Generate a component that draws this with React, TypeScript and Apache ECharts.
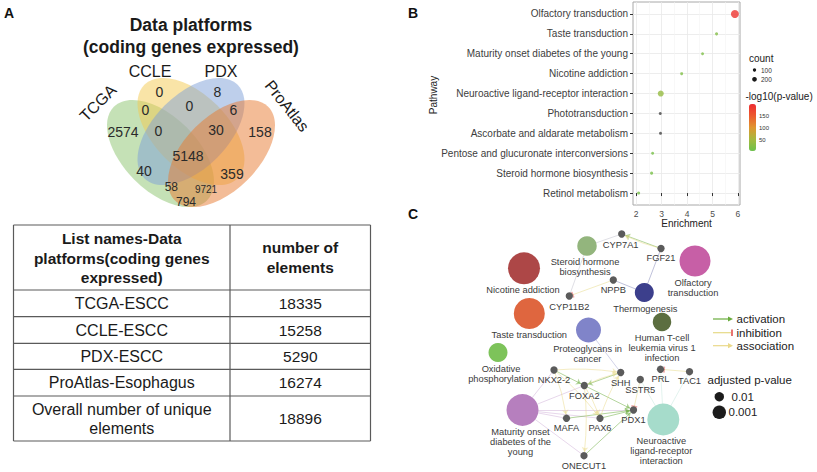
import React, { useEffect, useRef } from 'react';
import * as echarts from 'echarts';

const FONT = '"Liberation Sans", Arial, Helvetica, sans-serif';

// ---------------- Panel A: Venn diagram ----------------
const vennSetNames = ['TCGA', 'CCLE', 'PDX', 'ProAtlas'];
const vennSetColors = ['#8cc46e', '#f3c950', '#7ea0d8', '#e87a30'];
// region keys: A=TCGA, B=CCLE, C=PDX, D=ProAtlas
const vennRegionKeys = ['B', 'C', 'AB', 'BC', 'CD', 'A', 'ABC', 'BCD', 'D', 'ABCD', 'AC', 'BD', 'ACD', 'ABD', 'AD'];
const vennRegionCounts = [0, 8, 0, 0, 6, 2574, 0, 30, 158, 5148, 40, 359, 58, 9721, 794];

// ---------------- Panel A: table ----------------
const tableHeader = ['List names-Data\nplatforms(coding genes\nexpressed)', 'number of\nelements'];
const tableNames = ['TCGA-ESCC', 'CCLE-ESCC', 'PDX-ESCC', 'ProAtlas-Esophagus', 'Overall number of unique\nelements'];
const tableCounts = [18335, 15258, 5290, 16274, 18896];

// ---------------- Panel B: KEGG enrichment dot plot ----------------
const pathways = [
  'Retinol metabolism',
  'Steroid hormone biosynthesis',
  'Pentose and glucuronate interconversions',
  'Ascorbate and aldarate metabolism',
  'Phototransduction',
  'Neuroactive ligand-receptor interaction',
  'Nicotine addiction',
  'Maturity onset diabetes of the young',
  'Taste transduction',
  'Olfactory transduction',
];
const enrichment = [2.1, 2.61, 2.65, 2.96, 2.95, 2.97, 3.79, 4.61, 5.16, 5.88];
const geneCount = [85, 85, 80, 80, 80, 330, 80, 75, 85, 580];
const negLog10P = [14, 16, 15, 2, 2, 40, 22, 20, 24, 190];
const enrichTicks = [2, 3, 4, 5, 6];
const enrichMinor = [2.5, 3.5, 4.5, 5.5];
const countLegend = [100, 200];
const pLegend = [150, 100, 50];
const P_MIN = 5;
const P_MAX = 200;

// ---------------- Panel C: network ----------------
const netIds = ['CYP7A1', 'FGF21', 'Steroid', 'Olfactory', 'Nicotine', 'NPPB', 'CYP11B2', 'Thermo', 'Taste', 'Proteo',
  'HTLV', 'Oxidative', 'NKX2-2', 'FOXA2', 'SHH', 'SSTR5', 'PRL', 'TAC1', 'Maturity', 'MAFA', 'PAX6', 'PDX1', 'ONECUT1', 'Neuro'];
const netLabels = ['CYP7A1', 'FGF21', 'Steroid hormone\nbiosynthesis', 'Olfactory\ntransduction', 'Nicotine addiction', 'NPPB',
  'CYP11B2', 'Thermogenesis', 'Taste transduction', 'Proteoglycans in\ncancer', 'Human T-cell\nleukemia virus 1\ninfection',
  'Oxidative\nphosphorylation', 'NKX2-2', 'FOXA2', 'SHH', 'SSTR5', 'PRL', 'TAC1', 'Maturity onset\ndiabetes of the\nyoung',
  'MAFA', 'PAX6', 'PDX1', 'ONECUT1', 'Neuroactive\nligand-receptor\ninteraction'];
const netX = [211.7, 251, 177, 285, 114, 203.3, 159.3, 234.3, 119.3, 178.5, 252, 88, 144, 174.3, 210.7, 230.3, 250.5, 279.5, 112.5, 156.5, 190, 223.5, 174, 253.3];
const netY = [34, 48.5, 46, 61, 68.3, 80, 96, 92.5, 113.5, 130, 122, 152.5, 170, 185.5, 172.5, 179.5, 169.3, 171.7, 210, 218.3, 218.3, 210, 255.7, 219.5];
// [source, target, relation]
const netLinks: [string, string, string][] = [
  ['Steroid', 'CYP7A1', 'member'],
  ['Steroid', 'CYP11B2', 'member'],
  ['Thermo', 'FGF21', 'member'],
  ['Thermo', 'NPPB', 'member'],
  ['Proteo', 'SHH', 'member'],
  ['Maturity', 'NKX2-2', 'member'],
  ['Maturity', 'FOXA2', 'member'],
  ['Maturity', 'MAFA', 'member'],
  ['Maturity', 'PAX6', 'member'],
  ['Maturity', 'PDX1', 'member'],
  ['Maturity', 'ONECUT1', 'member'],
  ['Neuro', 'PRL', 'member'],
  ['Neuro', 'TAC1', 'member'],
  ['Neuro', 'SSTR5', 'member'],
  ['FGF21', 'CYP7A1', 'activation'],
  ['FGF21', 'CYP7A1', 'association'],
  ['NPPB', 'CYP11B2', 'inhibition'],
  ['TAC1', 'PRL', 'inhibition'],
  ['SSTR5', 'PDX1', 'inhibition'],
  ['SHH', 'FOXA2', 'activation'],
  ['FOXA2', 'SHH', 'association'],
  ['NKX2-2', 'FOXA2', 'activation'],
  ['FOXA2', 'PDX1', 'activation'],
  ['MAFA', 'PDX1', 'activation'],
  ['PAX6', 'PDX1', 'activation'],
  ['ONECUT1', 'PDX1', 'activation'],
  ['FOXA2', 'ONECUT1', 'association'],
  ['NKX2-2', 'PAX6', 'association'],
  ['NKX2-2', 'MAFA', 'association'],
  ['PAX6', 'SHH', 'association'],
  ['FOXA2', 'PAX6', 'association'],
  ['NKX2-2', 'SHH', 'association'],
];
const netRelations = ['activation', 'inhibition', 'association'];
const netPLegend = ['0.01', '0.001'];

// ---------------- styles / layout ----------------
const vennLayout = [
  { x: 160.5, y: 153.5, rot: -Math.PI / 4 },
  { x: 191, y: 131.5, rot: -Math.PI / 4 },
  { x: 191, y: 131.5, rot: Math.PI / 4 },
  { x: 221.5, y: 153.5, rot: Math.PI / 4 },
];
const vennLabelPos = [
  { x: 98, y: 103, rot: Math.PI / 4 },
  { x: 150, y: 71.7, rot: 0 },
  { x: 221, y: 71.7, rot: 0 },
  { x: 287, y: 106, rot: -0.9 },
];
const vennRegionPos: Record<string, [number, number, number]> = {
  B: [159.5, 91.5, 14], C: [217.3, 91.5, 14], AB: [145.3, 109.5, 14], BC: [189.3, 105.5, 14], CD: [233.3, 109.5, 14],
  A: [123, 132, 14], ABC: [158.5, 130.5, 14], BCD: [216, 130, 14], D: [260, 132, 14], ABCD: [188, 156.3, 14],
  AC: [144, 171.3, 14], BD: [232, 174, 14], ACD: [171.3, 187, 12], ABD: [206, 189.5, 10], AD: [186, 201.7, 12],
};
const tableX = [13.5, 230, 370.5];
const tableY = [225, 290, 316.7, 343.3, 369.3, 396, 441];

const netSize = [7.3, 7.3, 19.5, 31, 32, 7.3, 7.3, 19, 31, 25, 18.5, 19, 7.3, 7.3, 7.3, 7.3, 7.3, 7.3, 32, 7.3, 7.3, 7.3, 7.3, 32];
const GENE = '#5b5b5b';
const netColor = [GENE, GENE, '#93b57d', '#c75fa6', '#ad4747', GENE, GENE, '#3c3f8c', '#df663f', '#8084c9', '#5c6e40', '#7dc35a',
  GENE, GENE, GENE, GENE, GENE, GENE, '#b67fbe', GENE, GENE, GENE, GENE, '#a6dccb'];
const netLabelOffset: [number, number][] = [[-1, 10.5], [0, 9.5], [-2, 21], [-2, 27], [-1, 22], [0, 10], [0, 10.5], [1, 16],
  [0, 21.5], [-1, 23.5], [0, 25.5], [3, 21], [0, 10], [0, 10], [0, 10], [0, 10], [0, 10], [0, 9.5], [-2, 32], [0, 10], [0, 10],
  [0, 10], [0, 10], [-2, 31.5]];
const memberColor: Record<string, string> = {
  Steroid: '#b9b9c6', Thermo: '#7275ad', Proteo: '#9c9ecf', Maturity: '#caa6d2', Neuro: '#bfe4da',
};
const relColor: Record<string, string> = { activation: '#69ac3c', inhibition: '#e6da86', association: '#ead98a' };
const INHIBIT_RED = '#e3504e';
const BAR = 'path://M0,0 L10,0 L10,2 L0,2 Z';
const LOW_P_COLOR = '#454545';

const countToSize = (c: number) => 0.332 * Math.sqrt(c);
const pToY = (v: number) => 104 + ((P_MAX - v) / (P_MAX - P_MIN)) * 47;

function txt(text: string, x: number, y: number, size: number, opts: any = {}) {
  return {
    type: 'text',
    x,
    y,
    rotation: opts.rotation || 0,
    silent: true,
    z: opts.z || 10,
    style: {
      text,
      fontSize: size,
      fontFamily: opts.fontFamily || FONT,
      fontWeight: opts.bold ? 'bold' : 'normal',
      fill: opts.fill || '#222',
      align: opts.align || 'center',
      verticalAlign: 'middle',
      lineHeight: opts.lineHeight,
    },
  };
}

function buildOption() {
  const g: any[] = [];
  // panel letters
  g.push(txt('A', 9, 12.5, 14, { bold: true, fill: '#111' }));
  g.push(txt('B', 413, 12.5, 14, { bold: true, fill: '#111' }));
  g.push(txt('C', 413, 213.5, 14, { bold: true, fill: '#111' }));

  // Venn title
  g.push(txt('Data platforms', 191, 25, 17.5, { bold: true, fill: '#1a1a1a' }));
  g.push(txt('(coding genes expressed)', 191, 46.5, 17.5, { bold: true, fill: '#1a1a1a' }));

  // ellipses
  vennSetNames.forEach((_, i) => {
    const L = vennLayout[i];
    g.push({
      type: 'ellipse',
      x: L.x,
      y: L.y,
      rotation: L.rot,
      silent: true,
      z: 2 + i,
      shape: { cx: 0, cy: 0, rx: 66, ry: 37 },
      style: { fill: vennSetColors[i], opacity: 0.5 },
    });
    const P = vennLabelPos[i];
    g.push(txt(vennSetNames[i], P.x, P.y, 16, { rotation: P.rot, fill: '#1a1a1a' }));
  });
  vennRegionKeys.forEach((k, i) => {
    const p = vennRegionPos[k];
    g.push(txt(String(vennRegionCounts[i]), p[0], p[1], p[2], { fill: '#2a2a2a' }));
  });

  // table
  const tStroke = { stroke: '#5a5a5a', lineWidth: 1.2 };
  tableY.forEach((y) => {
    g.push({ type: 'line', silent: true, shape: { x1: tableX[0], y1: y, x2: tableX[2], y2: y }, style: tStroke });
  });
  tableX.forEach((x) => {
    g.push({ type: 'line', silent: true, shape: { x1: x, y1: tableY[0], x2: x, y2: tableY[tableY.length - 1] }, style: tStroke });
  });
  const c0 = (tableX[0] + tableX[1]) / 2;
  const c1 = (tableX[1] + tableX[2]) / 2;
  const hy = (tableY[0] + tableY[1]) / 2;
  g.push(txt(tableHeader[0], c0, hy + 0.5, 15.5, { bold: true, lineHeight: 19.5, fill: '#1a1a1a' }));
  g.push(txt(tableHeader[1], c1, hy, 15.5, { bold: true, lineHeight: 19.5, fill: '#1a1a1a' }));
  tableNames.forEach((n, i) => {
    const y = (tableY[i + 1] + tableY[i + 2]) / 2;
    g.push(txt(n, c0, y, 16, { lineHeight: 19, fill: '#1a1a1a' }));
    g.push(txt(String(tableCounts[i]), c1, y, 15.5, { fill: '#1a1a1a' }));
  });

  // Panel B extras
  g.push(txt('Pathway', 433, 95, 10, { rotation: Math.PI / 2, fill: '#222' }));
  g.push(txt('count', 749, 58.7, 10, { align: 'left', fill: '#222' }));
  countLegend.forEach((c, i) => {
    const y = 70 + i * 9.3;
    g.push({ type: 'circle', silent: true, shape: { cx: 754.5, cy: y, r: countToSize(c) / 2 }, style: { fill: '#1a1a1a' } });
    g.push(txt(String(c), 761, y + 0.3, 6.5, { align: 'left', fill: '#333' }));
  });
  g.push(txt('-log10(p-value)', 745.5, 96.7, 10, { align: 'left', fill: '#222' }));
  pLegend.forEach((v) => {
    g.push(txt(String(v), 759, pToY(v), 6, { align: 'left', fill: '#333' }));
  });

  // Panel C legend
  const lx0 = 713;
  const lx1 = 733;
  const ly = [319, 332.7, 345.7];
  netRelations.forEach((r, i) => {
    const y = ly[i];
    g.push({ type: 'line', silent: true, shape: { x1: lx0, y1: y, x2: lx1 - 2, y2: y }, style: { stroke: relColor[r], lineWidth: 1.2 } });
    if (r === 'inhibition') {
      g.push({ type: 'line', silent: true, shape: { x1: lx1 - 1, y1: y - 3.3, x2: lx1 - 1, y2: y + 3.3 }, style: { stroke: INHIBIT_RED, lineWidth: 1.6 } });
    } else {
      g.push({ type: 'polygon', silent: true, shape: { points: [[lx1 - 5, y - 2.6], [lx1, y], [lx1 - 5, y + 2.6]] }, style: { fill: relColor[r] } });
    }
    g.push(txt(r, 736.5, y, 11.5, { align: 'left', fill: '#222' }));
  });
  g.push(txt('adjusted p-value', 707.5, 380, 11.5, { align: 'left', fill: '#222' }));
  netPLegend.forEach((t, i) => {
    const y = [396.7, 412.3][i];
    const r = [4.7, 6.7][i];
    g.push({ type: 'circle', silent: true, shape: { cx: 719.3, cy: y, r }, style: { fill: '#1c1c1c' } });
    g.push(txt(t, i === 0 ? 731.5 : 728.5, y, 11.5, { align: 'left', fill: '#222' }));
  });

  // network data
  const nodes = netIds.map((id, i) => ({
    name: id,
    value: [netX[i], netY[i]],
    symbolSize: netSize[i],
    itemStyle: { color: netColor[i] },
    label: {
      show: true,
      position: 'inside',
      offset: netLabelOffset[i],
      formatter: netLabels[i],
      fontSize: 9.3,
      lineHeight: 10,
      fontFamily: FONT,
      color: '#3a3a3a',
      textBorderWidth: 0,
    },
  }));
  const links: any[] = [];
  netLinks.forEach(([s, t, rel]) => {
    if (rel === 'member') {
      links.push({ source: s, target: t, symbol: ['none', 'none'], lineStyle: { color: memberColor[s] || '#bbb', width: 0.9, curveness: 0 } });
    } else if (rel === 'activation') {
      links.push({ source: s, target: t, symbol: ['none', 'arrow'], symbolSize: [1, 5], lineStyle: { color: relColor.activation, width: 1, curveness: 0 } });
    } else if (rel === 'association') {
      links.push({ source: s, target: t, symbol: ['none', 'arrow'], symbolSize: [1, 5], lineStyle: { color: relColor.association, width: 1, curveness: 0.06 } });
    } else {
      links.push({ source: s, target: t, symbol: ['none', 'none'], lineStyle: { color: relColor.inhibition, width: 1, curveness: 0 } });
      links.push({ source: s, target: t, symbol: ['none', BAR], symbolSize: [1, [6, 1.6]], lineStyle: { color: INHIBIT_RED, width: 0, curveness: 0 } });
    }
  });

  const scatterData = pathways.map((_, i) => {
    const item: any = { value: [enrichment[i], i, geneCount[i], negLog10P[i]] };
    if (negLog10P[i] < P_MIN) item.itemStyle = { color: LOW_P_COLOR };
    return item;
  });

  return {
    animation: false,
    backgroundColor: '#ffffff',
    textStyle: { fontFamily: FONT },
    grid: [
      { left: 633, top: 2, width: 107, height: 203, show: true, borderColor: '#a8a8a8', borderWidth: 1, backgroundColor: '#fff' },
      { left: 410, top: 200, width: 407, height: 272, show: false },
    ],
    xAxis: [
      {
        gridIndex: 0,
        type: 'value',
        min: 1.88,
        max: 6.08,
        axisLine: { show: false },
        axisTick: { show: true, customValues: enrichTicks, length: 3, lineStyle: { color: '#333' } },
        axisLabel: { customValues: enrichTicks, fontSize: 8.5, color: '#4d4d4d', margin: 4, fontFamily: FONT },
        splitLine: { show: true, lineStyle: { color: '#e9e9e9', width: 0.8 } },
        name: 'Enrichment',
        nameLocation: 'middle',
        nameGap: 13,
        nameTextStyle: { fontSize: 10, color: '#222', fontFamily: FONT },
      },
      { gridIndex: 1, type: 'value', min: 0, max: 407, show: false },
    ],
    yAxis: [
      {
        gridIndex: 0,
        type: 'value',
        min: -0.6,
        max: 9.6,
        axisLine: { show: false },
        axisTick: { show: true, customValues: pathways.map((_, i) => i), length: 3, lineStyle: { color: '#333' } },
        axisLabel: {
          customValues: pathways.map((_, i) => i),
          formatter: (v: number) => pathways[Math.round(v)] || '',
          fontSize: 10,
          color: '#3d3d3d',
          margin: 5,
          fontFamily: FONT,
        },
        splitLine: { show: true, lineStyle: { color: '#e9e9e9', width: 0.8 } },
      },
      { gridIndex: 1, type: 'value', min: 0, max: 272, inverse: true, show: false },
    ],
    visualMap: [
      {
        type: 'continuous',
        seriesIndex: 0,
        dimension: 3,
        min: P_MIN,
        max: P_MAX,
        calculable: false,
        hoverLink: false,
        left: 749,
        top: 104,
        itemWidth: 7,
        itemHeight: 47,
        padding: 0,
        inRange: { color: ['#6cc24a', '#a6b93f', '#e0962f', '#ec5a2e', '#ee2b30'] },
      },
    ],
    series: [
      {
        type: 'scatter',
        xAxisIndex: 0,
        yAxisIndex: 0,
        data: scatterData,
        symbolSize: (v: number[]) => countToSize(v[2]),
        z: 5,
        markLine: {
          silent: true,
          symbol: 'none',
          label: { show: false },
          lineStyle: { color: '#f3f3f3', width: 0.6, type: 'solid' },
          data: enrichMinor.map((x) => ({ xAxis: x })),
          z: 1,
        },
      },
      {
        type: 'graph',
        coordinateSystem: 'cartesian2d',
        xAxisIndex: 1,
        yAxisIndex: 1,
        layout: 'none',
        data: nodes,
        links,
        edgeSymbol: ['none', 'none'],
        emphasis: { disabled: true },
        z: 3,
      },
    ],
    graphic: { elements: g },
  };
}

export default function App() {
  const ref = useRef<HTMLDivElement>(null);
  useEffect(() => {
    if (!ref.current) return;
    const chart = echarts.init(ref.current, null, { renderer: 'svg' });
    chart.setOption(buildOption() as any);
    return () => chart.dispose();
  }, []);
  return (
    <div
      ref={ref}
      style={{ position: 'fixed', left: 0, top: 0, width: 817, height: 472, background: '#fff' }}
    />
  );
}
